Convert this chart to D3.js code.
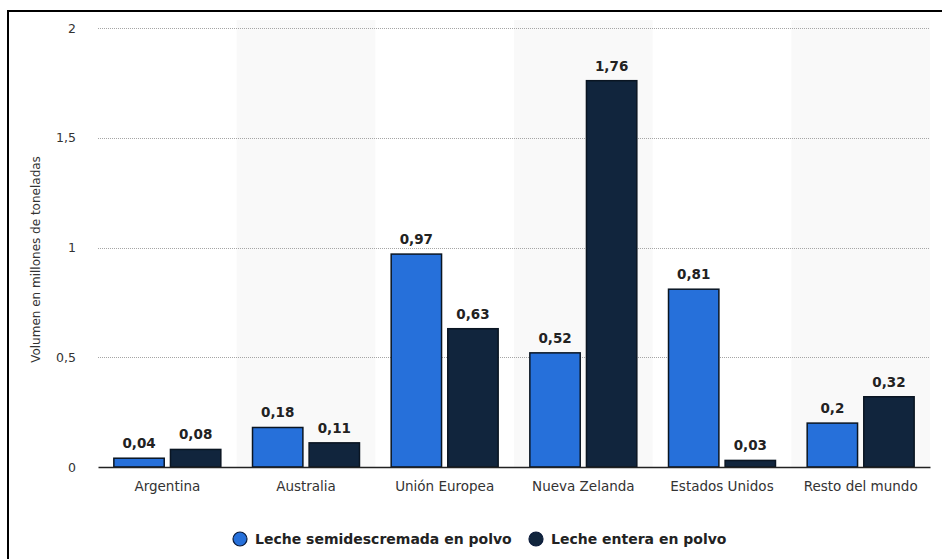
<!DOCTYPE html>
<html>
<head>
<meta charset="utf-8">
<script src="https://cdn.jsdelivr.net/npm/d3@7"></script>
<style>
  html, body { margin: 0; padding: 0; background: #fff; }
  svg { display: block; }
  text { font-family: "DejaVu Sans", Verdana, sans-serif; }
</style>
</head>
<body>
<svg id="chart" width="942" height="559"></svg>
<script>
// Exportaciones de leche en polvo por región (millones de toneladas)
const categories = ["Argentina", "Australia", "Unión Europea", "Nueva Zelanda", "Estados Unidos", "Resto del mundo"];
const seriesNames = ["Leche semidescremada en polvo", "Leche entera en polvo"];
const semidescremada = [0.04, 0.18, 0.97, 0.52, 0.81, 0.2];
const entera = [0.08, 0.11, 0.63, 1.76, 0.03, 0.32];
const yTicks = [0, 0.5, 1, 1.5, 2];
const yTitle = "Volumen en millones de toneladas";

const colors = ["#2670da", "#11253d"];
const seriesValues = [semidescremada, entera];

const svg = d3.select("#chart");
const margin = { left: 98, right: 12, top: 28, bottom: 92 };
const W = 942, H = 559;
const plotRight = W - margin.right;
const plotBottom = H - margin.bottom;

const fmt = v => String(v).replace(".", ",");

// Frame lines (left and top)
svg.append("line").attr("x1", 8).attr("x2", 8).attr("y1", 10).attr("y2", H)
  .attr("stroke", "#000").attr("stroke-width", 2);
svg.append("line").attr("x1", 8).attr("x2", W).attr("y1", 11).attr("y2", 11)
  .attr("stroke", "#000").attr("stroke-width", 2);

const x = d3.scaleBand().domain(categories).range([margin.left, plotRight]);
const xInner = d3.scaleBand().domain(seriesNames).range([0, x.bandwidth()])
  .paddingInner(0.11).paddingOuter(0.28);
const y = d3.scaleLinear().domain([0, 2]).range([plotBottom, margin.top]);

// Alternating background bands
svg.append("g").selectAll("rect")
  .data(categories.filter((d, i) => i % 2 === 1))
  .join("rect")
  .attr("x", d => x(d))
  .attr("width", x.bandwidth())
  .attr("y", margin.top - 8)
  .attr("height", plotBottom - margin.top + 8)
  .attr("fill", "#f9f9f9");

// Dotted gridlines
const grid = svg.append("g");
grid.selectAll("line")
  .data(yTicks.filter(t => t > 0))
  .join("line")
  .attr("x1", margin.left).attr("x2", plotRight)
  .attr("y1", d => Math.round(y(d)) + 0.5).attr("y2", d => Math.round(y(d)) + 0.5)
  .attr("stroke", "#a5a5a5").attr("stroke-width", 1)
  .attr("stroke-dasharray", "1,1");

// Y axis labels
const yAxis = d3.axisLeft(y).tickValues(yTicks).tickFormat(fmt).tickSize(0).tickPadding(0);
const gy = svg.append("g").attr("transform", `translate(${margin.left - 22},0)`).call(yAxis);
gy.select(".domain").remove();
gy.selectAll("text").attr("font-size", 12.5).attr("fill", "#333")
  .attr("font-family", "DejaVu Sans, sans-serif");

// Y axis title
svg.append("text")
  .attr("transform", `translate(40,${(margin.top + plotBottom) / 2 + 12}) rotate(-90)`)
  .attr("text-anchor", "middle")
  .attr("font-size", 12)
  .attr("fill", "#333")
  .text(yTitle);

// Bars
const groups = svg.append("g").selectAll("g")
  .data(categories)
  .join("g")
  .attr("transform", d => `translate(${x(d)},0)`);

groups.selectAll("rect")
  .data((d, i) => seriesNames.map((s, k) => ({ s, k, v: seriesValues[k][i] })))
  .join("rect")
  .attr("x", d => xInner(d.s))
  .attr("width", xInner.bandwidth())
  .attr("y", d => y(d.v))
  .attr("height", d => y(0) - y(d.v))
  .attr("fill", d => colors[d.k])
  .attr("stroke", "#0a1522")
  .attr("stroke-width", 1.5);

groups.selectAll("text")
  .data((d, i) => seriesNames.map((s, k) => ({ s, k, v: seriesValues[k][i] })))
  .join("text")
  .attr("x", d => xInner(d.s) + xInner.bandwidth() / 2)
  .attr("y", d => y(d.v) - 10)
  .attr("text-anchor", "middle")
  .attr("font-size", 13.5)
  .attr("font-weight", "bold")
  .attr("fill", "#222")
  .text(d => fmt(d.v));

// X axis
const xAxis = d3.axisBottom(x).tickSize(0).tickPadding(14);
const gx = svg.append("g").attr("transform", `translate(0,${plotBottom})`).call(xAxis);
gx.select(".domain").attr("stroke", "#222").attr("stroke-width", 1.5);
gx.selectAll("text").attr("font-size", 13.5).attr("fill", "#333")
  .attr("font-family", "DejaVu Sans, sans-serif");

// Legend
const legendY = 539;
const legend = svg.append("g");
const items = legend.selectAll("g").data(seriesNames).join("g");
items.append("circle").attr("r", 7).attr("cy", 0)
  .attr("fill", (d, i) => colors[i]).attr("stroke", "#0a1a3a").attr("stroke-width", 1.2);
items.append("text").attr("x", 15).attr("dy", "0.35em")
  .attr("font-size", 14).attr("font-weight", "bold").attr("fill", "#222")
  .text(d => d);
const legendX = [240, 536];
items.attr("transform", (d, i) => `translate(${legendX[i]},${legendY})`);
</script>
</body>
</html>
